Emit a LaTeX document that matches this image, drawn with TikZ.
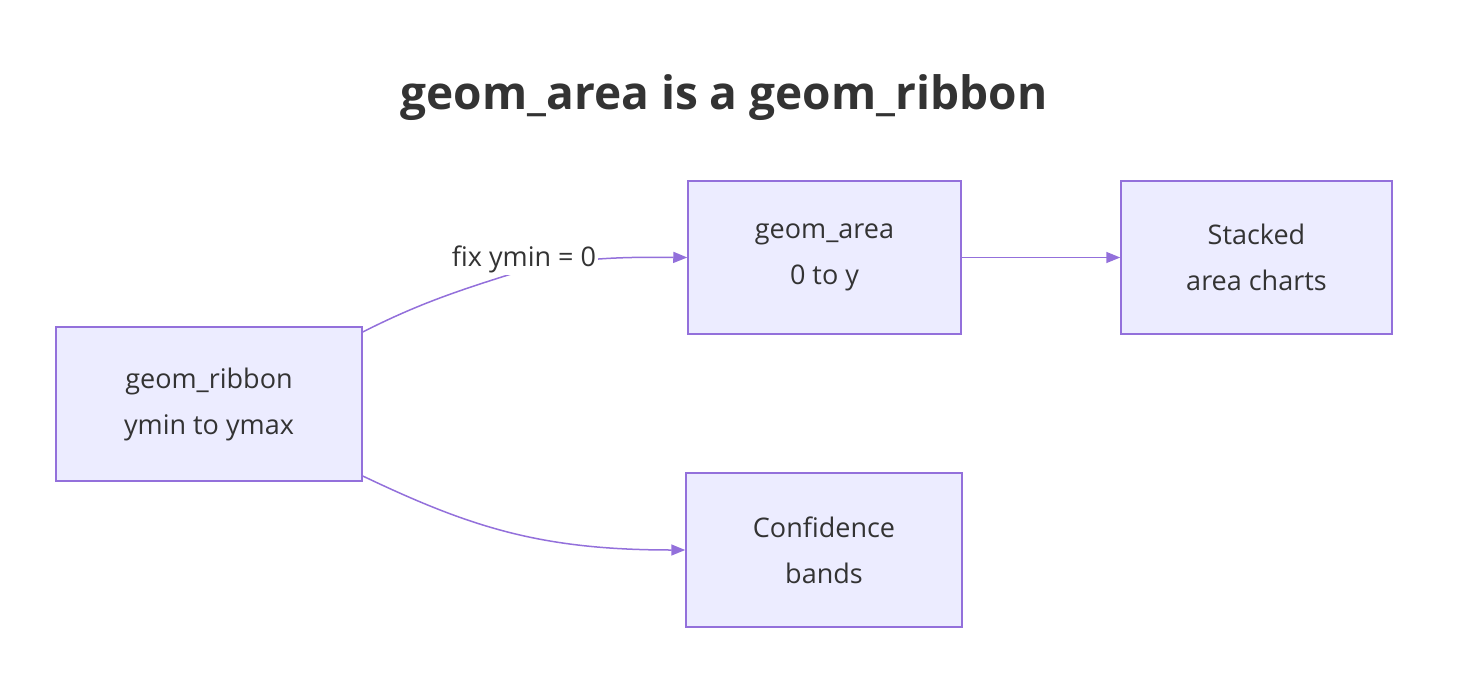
\documentclass[tikz,border=0pt]{standalone}
\usepackage{fontspec}
\setmainfont{Open Sans}
\usetikzlibrary{arrows.meta}
\definecolor{nfill}{HTML}{ECECFF}
\definecolor{nline}{HTML}{9370DB}
\definecolor{txt}{HTML}{333333}
\begin{document}
\begin{tikzpicture}[x=1pt,y=-1pt,
  box/.style={draw=nline,fill=nfill,line width=1.5pt,text=txt,align=center,font=\fontsize{27}{46}\selectfont,inner sep=0},
  edge/.style={draw=nline,line width=1.5pt,-{Triangle[length=14pt,width=11pt]}}]
\useasboundingbox (0,0) rectangle (1464,690);
\node[font=\fontsize{46}{50}\selectfont\bfseries,text=txt] (title) at (724,98) {geom\_area is a geom\_ribbon};
\node[box,minimum width=306,minimum height=154] (rib) at (209,404) {geom\_ribbon\\ymin to ymax};
\node[box,minimum width=273,minimum height=153] (area) at (824.5,257.5) {geom\_area\\0 to y};
\node[box,minimum width=271,minimum height=153] (stk) at (1256.5,257.5) {Stacked\\area charts};
\node[box,minimum width=276,minimum height=154] (conf) at (824,550) {Confidence\\bands};
\coordinate (lab) at (524,259);
\draw[edge] (rib.east |- 0,332) .. controls (420,303) and (460,290) .. (524,270) .. controls (580,257) and (630,257) .. (area.west);
\node[fill=white,text=txt,font=\fontsize{27}{30}\selectfont,inner sep=2pt] (l1) at (lab) {fix ymin = 0};
\draw[edge] (area) -- (stk);
\draw[edge] (rib.east |- 0,476) .. controls (470,527) and (540,550) .. (conf.west);
\end{tikzpicture}
\end{document}
